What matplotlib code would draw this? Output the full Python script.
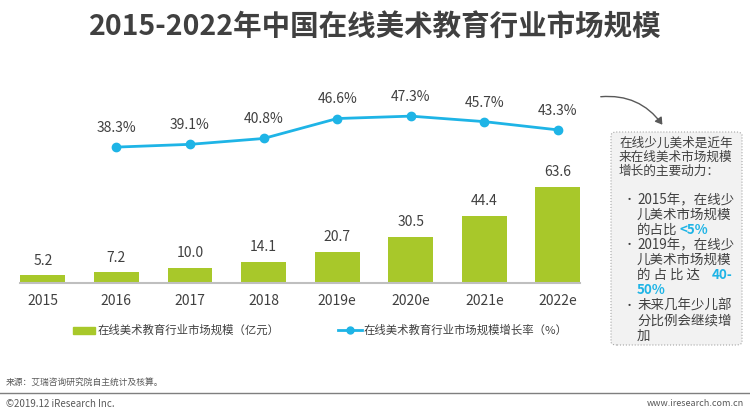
import matplotlib.pyplot as plt
from matplotlib.patches import FancyBboxPatch, FancyArrowPatch

plt.rcParams['font.family'] = ['Noto Sans CJK SC', 'DejaVu Sans']

years = ["2015", "2016", "2017", "2018", "2019e", "2020e", "2021e", "2022e"]
market_size = [5.2, 7.2, 10.0, 14.1, 20.7, 30.5, 44.4, 63.6]
growth_years = [1, 2, 3, 4, 5, 6, 7]
growth_rate = [38.3, 39.1, 40.8, 46.6, 47.3, 45.7, 43.3]

green = "#a8c82a"
blue = "#1eb4e6"
W, H = 750, 416


def fx(px):
    return px / W


def fy(py):
    return (H - py) / H


fig = plt.figure(figsize=(7.5, 4.16), dpi=100)

# 主图区域
ax = fig.add_axes([fx(20), fy(283), 560 / W, 203 / H])
x = range(len(years))
ax.bar(x, market_size, width=0.61, color=green, zorder=2)
for i, v in enumerate(market_size):
    ax.text(i, v + 5, f"{v:.1f}", ha="center", va="bottom", fontsize=10, color="#404040")
ax.set_xlim(-0.31, 7.3)
ax.set_ylim(0, 134.4)
ax.set_xticks(list(x))
ax.set_xticklabels(years, fontsize=10, color="#404040")
ax.tick_params(axis="x", length=0, pad=8)
ax.set_yticks([])
for s in ["top", "right", "left"]:
    ax.spines[s].set_visible(False)
ax.spines["bottom"].set_color("#bfbfbf")
ax.spines["bottom"].set_linewidth(1.5)

ax2 = ax.twinx()
ax2.plot(growth_years, growth_rate, color=blue, lw=2, marker="o", ms=6, zorder=3)
for xi, v in zip(growth_years, growth_rate):
    ax2.text(xi, v + 3.5, f"{v}%", ha="center", va="bottom", fontsize=10, color="#404040")
ax2.set_ylim(-1.2, 57.8)
ax2.set_yticks([])
for s in ["top", "right", "left", "bottom"]:
    ax2.spines[s].set_visible(False)

# 标题
fig.text(0.5, fy(27), "2015-2022年中国在线美术教育行业市场规模", ha="center", va="center",
         fontsize=20.5, fontweight="bold", color="#404040")

# 图例
lfs = 8.2
fig.patches.append(plt.Rectangle((fx(73), fy(334)), 22 / W, 7 / H, color=green,
                                 transform=fig.transFigure))
fig.text(fx(98), fy(330), "在线美术教育行业市场规模（亿元）", va="center", fontsize=lfs, color="#404040")
fig.lines.append(plt.Line2D([fx(338), fx(362)], [fy(330)] * 2, color=blue, lw=2,
                            transform=fig.transFigure))
fig.lines.append(plt.Line2D([fx(350)], [fy(330)], color=blue, marker="o", ms=5,
                            transform=fig.transFigure))
fig.text(fx(364), fy(330), "在线美术教育行业市场规模增长率（%）", va="center", fontsize=lfs, color="#404040")

# 右侧文本框
box = FancyBboxPatch((fx(611), fy(345)), 131 / W, 213 / H,
                     boxstyle="round,pad=0,rounding_size=0.008", transform=fig.transFigure,
                     facecolor="#f2f2f2", edgecolor="#a6a6a6", lw=0.8, linestyle=":")
fig.patches.append(box)
tc = "#404040"
intro = ["在线少儿美术是近年", "来在线美术市场规模", "增长的主要动力："]
for y, t in zip([143, 157, 171], intro):
    fig.text(fx(619), fy(y), t, va="center", fontsize=9.1, color=tc)

bfs = 9.7
bullet_lines = [
    (200, "2015年，在线少", True),
    (215, "儿美术市场规模", False),
    (230, "的占比", False),
    (245, "2019年，在线少", True),
    (260, "儿美术市场规模", False),
    (275, "的 占 比 达", False),
    (306, "未来几年少儿部", True),
    (321, "分比例会继续增", False),
    (336, "加", False),
]
for y, t, dot in bullet_lines:
    if dot:
        fig.text(fx(629), fy(y), "•", va="center", ha="center", fontsize=8, color=tc)
    fig.text(fx(637), fy(y), t, va="center", fontsize=bfs, color=tc)
fig.text(fx(679), fy(230), "<5%", va="center", fontsize=bfs, color=blue, fontweight="bold")
fig.text(fx(712), fy(275), "40-", va="center", fontsize=bfs, color=blue, fontweight="bold")
fig.text(fx(637), fy(290), "50%", va="center", fontsize=bfs, color=blue, fontweight="bold")

arrow = FancyArrowPatch((fx(598), fy(97)), (fx(664), fy(127)),
                        connectionstyle="arc3,rad=-0.3", arrowstyle="-|>,head_length=4,head_width=2.5",
                        color="#595959", lw=1, transform=fig.transFigure)
fig.patches.append(arrow)

# 页脚
fig.text(fx(6), fy(382), "来源：艾瑞咨询研究院自主统计及核算。", va="center", fontsize=6.3, color="#595959")
fig.lines.append(plt.Line2D([0, 1], [fy(393)] * 2, color="#7f7f7f", lw=1,
                            transform=fig.transFigure))
fig.text(fx(6), fy(404), "©2019.12 iResearch Inc.", va="center", fontsize=7, color="#595959")
fig.text(fx(744), fy(404), "www.iresearch.com.cn", va="center", ha="right", fontsize=6.5, color="#595959")

fig.savefig("out.png", dpi=100)
